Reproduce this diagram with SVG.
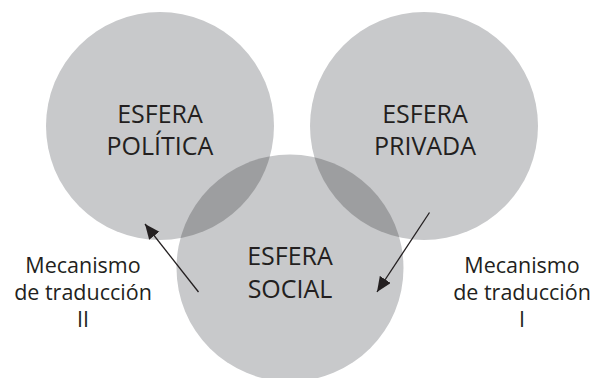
<svg xmlns="http://www.w3.org/2000/svg" width="596" height="378" viewBox="0 0 596 378">
  <style>
    .sphere { fill: #c8c9cb; }
    .overlap { fill: #9d9ea0; }
    .title { font-family: "Open Sans", "Liberation Sans", sans-serif; font-size: 25px; fill: #231f20; text-anchor: middle; }
    .label { font-family: "Open Sans", "Liberation Sans", sans-serif; font-size: 21.5px; fill: #231f20; text-anchor: middle; }
    .conn { stroke: #231f20; stroke-width: 1.3; fill: none; }
  </style>
  <defs>
    <clipPath id="clipSocial">
      <circle cx="290" cy="268" r="113.5"/>
    </clipPath>
    <marker id="arrow" markerUnits="userSpaceOnUse" markerWidth="16" markerHeight="14" refX="15" refY="6.5" orient="auto">
      <path d="M0,0 L15,6.5 L0,13 Z" fill="#231f20"/>
    </marker>
  </defs>
  <rect width="596" height="378" fill="#ffffff"/>
  <g id="social">
    <circle class="sphere" cx="290" cy="268" r="113.5"/>
  </g>
  <g id="politica">
    <circle class="sphere" cx="160" cy="126" r="114"/>
  </g>
  <g id="privada">
    <circle class="sphere" cx="424" cy="126" r="114"/>
  </g>
  <g id="overlaps" clip-path="url(#clipSocial)">
    <circle class="overlap" cx="160" cy="126" r="114"/>
    <circle class="overlap" cx="424" cy="126" r="114"/>
  </g>
  <g id="politica-text">
    <text class="title" x="160" y="123">ESFERA</text>
    <text class="title" x="160" y="155">POLÍTICA</text>
  </g>
  <g id="privada-text">
    <text class="title" x="425" y="123">ESFERA</text>
    <text class="title" x="425" y="155">PRIVADA</text>
  </g>
  <g id="social-text">
    <text class="title" x="290" y="265">ESFERA</text>
    <text class="title" x="290" y="298">SOCIAL</text>
  </g>
  <g id="mecanismo-II">
    <text class="label" x="83" y="273">Mecanismo</text>
    <text class="label" x="83" y="300">de traducción</text>
    <text class="label" x="83" y="327">II</text>
  </g>
  <g id="mecanismo-I">
    <text class="label" x="522" y="273">Mecanismo</text>
    <text class="label" x="522" y="300">de traducción</text>
    <text class="label" x="522" y="327">I</text>
  </g>
  <g id="connectors">
    <line class="conn" x1="198.5" y1="292" x2="145" y2="224" marker-end="url(#arrow)"/>
    <line class="conn" x1="429.5" y1="212.5" x2="377" y2="292" marker-end="url(#arrow)"/>
  </g>
</svg>
